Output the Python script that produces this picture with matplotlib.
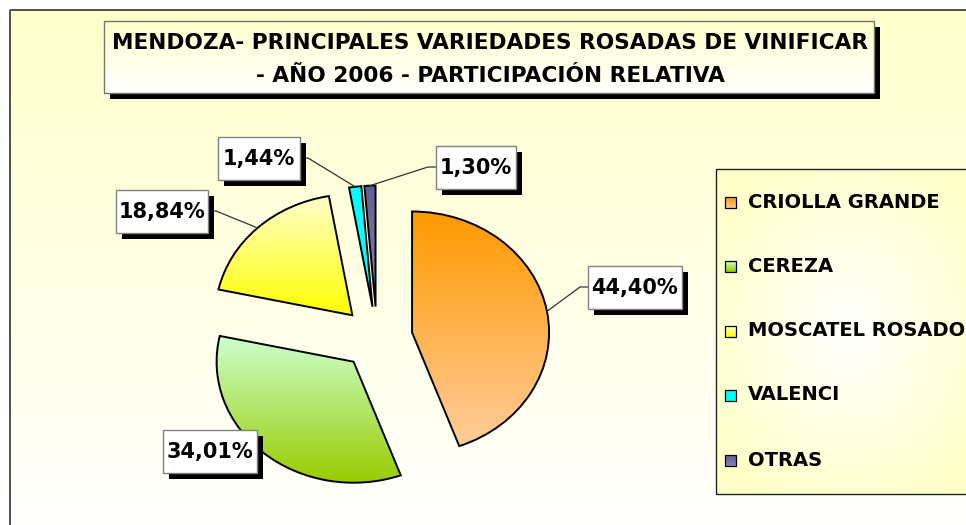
import numpy as np
import matplotlib
matplotlib.use('Agg')
import matplotlib.pyplot as plt
from matplotlib.patches import Rectangle
from matplotlib.colors import to_rgb

# datos
variedades = ['CRIOLLA GRANDE', 'CEREZA', 'MOSCATEL ROSADO', 'VALENCI', 'OTRAS']
porcentajes = [44.40, 34.01, 18.84, 1.44, 1.30]
titulo = ['MENDOZA- PRINCIPALES VARIEDADES ROSADAS DE VINIFICAR',
          '- AÑO 2006 - PARTICIPACIÓN RELATIVA']

# degradados (arriba, abajo)
colores = [('#ff9900', '#ffcc99'), ('#ccffcc', '#99cc00'), ('#ffffcc', '#ffff00'),
           ('#00ffff', '#00ffff'), ('#5f5f90', '#8585b5')]

W, H = 966, 525
fig = plt.figure(figsize=(W / 100, H / 100), dpi=100)
fig.patch.set_facecolor('white')


def vgrad(c1, c2, n=256):
    a = np.array(to_rgb(c1))
    b = np.array(to_rgb(c2))
    t = np.linspace(0, 1, n)[:, None]
    return (a * (1 - t) + b * t)[:, None, :]


# fondo en pixeles (y hacia abajo)
bg = fig.add_axes([0, 0, 1, 1], zorder=0)
bg.imshow(vgrad('#ffffcc', '#fffffd'), extent=(10, W, H, 10), origin='upper', aspect='auto')
bg.add_patch(Rectangle((10, 10), 1000, 600, fill=False, ec='#333333', lw=1.2))
bg.set_xlim(0, W)
bg.set_ylim(H, 0)
bg.axis('off')

# torta
cx, cy, rx, ry = 377, 338, 137, 121
pax = fig.add_axes([(cx - 2.5 * rx) / W, (H - cy - 2 * ry) / H, 5 * rx / W, 4 * ry / H], zorder=1)
wedges, _ = pax.pie(porcentajes, explode=[0.26] * 5, startangle=90, counterclock=False,
                    wedgeprops=dict(fc='none', ec='black', lw=1.4))
for w, (c1, c2) in zip(wedges, colores):
    ext = w.get_path().get_extents()
    im = pax.imshow(vgrad(c1, c2), extent=(ext.x0, ext.x1, ext.y0, ext.y1),
                    origin='upper', aspect='auto', zorder=0.5)
    im.set_clip_path(w)
pax.set_aspect('auto')
pax.set_xlim(-2.5, 2.5)
pax.set_ylim(-2, 2)
pax.axis('off')

# capa superior
ov = fig.add_axes([0, 0, 1, 1], zorder=2)
ov.set_xlim(0, W)
ov.set_ylim(H, 0)
ov.axis('off')
ov.patch.set_alpha(0)

# titulo
ov.add_patch(Rectangle((110, 27), 770, 72, fc='black', ec='none', zorder=1))
ov.imshow(vgrad('#ffffcc', '#ffffff'), extent=(104, 874, 93, 21), origin='upper',
          aspect='auto', zorder=2)
ov.add_patch(Rectangle((104, 21), 770, 72, fill=False, ec='#77776a', lw=1, zorder=2.5))
ov.text(490, 43, titulo[0], ha='center', va='center', fontsize=15.6, fontweight='bold', zorder=3)
ov.text(490, 76, titulo[1], ha='center', va='center', fontsize=15.6, fontweight='bold', zorder=3)

# etiquetas
cajas = [(635, 287), (210, 451), (162, 211), (259, 158), (476, 167)]
anchos = [94, 94, 92, 82, 80]
lados = ['l', None, 'r', 'r', 'l']
for w, v, (bx, by), bw, lado in zip(wedges, porcentajes, cajas, anchos, lados):
    bh = 43
    ov.add_patch(Rectangle((bx - bw / 2 + 6, by - bh / 2 + 6), bw, bh, fc='black', ec='none', zorder=3))
    ov.add_patch(Rectangle((bx - bw / 2, by - bh / 2), bw, bh, fc='white', ec='#808080', lw=1, zorder=4))
    ov.text(bx, by + 1, f'{v:.2f}%'.replace('.', ','), ha='center', va='center',
            fontsize=15, fontweight='bold', zorder=5)
    if lado:
        ang = np.deg2rad((w.theta1 + w.theta2) / 2)
        px, py = pax.transData.transform((w.center[0] + np.cos(ang), w.center[1] + np.sin(ang)))
        py = H - py
        x0 = bx - bw / 2 if lado == 'l' else bx + bw / 2
        x1 = x0 - 8 if lado == 'l' else x0 + 8
        ov.plot([x0, x1, px], [by, by, py], color='#333333', lw=0.9, zorder=2)

# leyenda
lx0, ly0, lx1, ly1 = 716, 169, 1010, 494
yy, xx = np.mgrid[0:1:120j, 0:1:120j]
d = np.clip(np.hypot((xx - 0.45) / 0.55, (yy - 0.5) / 0.6), 0, 1)[..., None]
rad = np.array(to_rgb('#ffffff')) * (1 - d) + np.array(to_rgb('#ffffc8')) * d
ov.imshow(rad, extent=(lx0, lx1, ly1, ly0), origin='upper', aspect='auto', zorder=1)
ov.add_patch(Rectangle((lx0, ly0), lx1 - lx0, ly1 - ly0, fill=False, ec='#222222', lw=1, zorder=1.5))
filas = [202, 266, 331, 395, 460]
for nombre, (c1, c2), fy in zip(variedades, colores, filas):
    ov.imshow(vgrad(c1, c2), extent=(725, 736, fy + 6, fy - 5), origin='upper', aspect='auto', zorder=2)
    ov.add_patch(Rectangle((725, fy - 5), 11, 11, fill=False, ec='black', lw=0.9, zorder=2.5))
    ov.text(748, fy, nombre, ha='left', va='center', fontsize=14, fontweight='bold', zorder=3)

ov.set_xlim(0, W)
ov.set_ylim(H, 0)
fig.savefig('out.png', dpi=100)
